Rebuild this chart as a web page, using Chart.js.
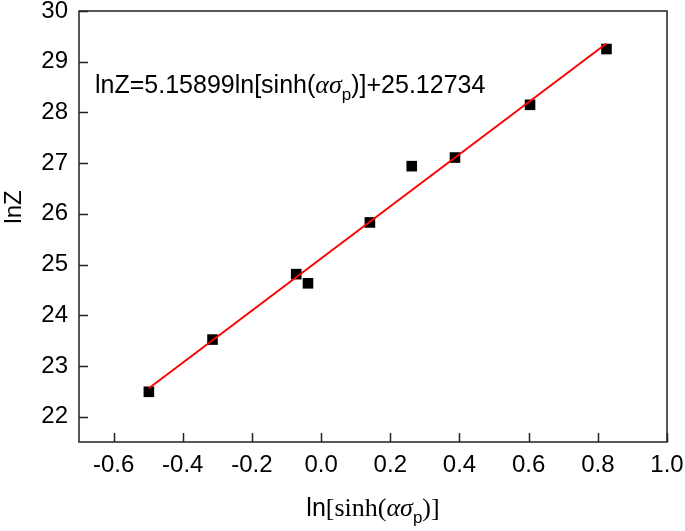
<!DOCTYPE html>
<html>
<head>
<meta charset="utf-8">
<script src="https://cdn.jsdelivr.net/npm/chart.js@4.4.1/dist/chart.umd.min.js"></script>
<style>
  html, body { margin: 0; padding: 0; background: #fff; }
  #wrap { width: 685px; height: 531px; }
</style>
</head>
<body>
<div id="wrap"><canvas id="plot" width="685" height="531"></canvas></div>
<script>
const pointsX = [-0.498, -0.314, -0.072, -0.038, 0.141, 0.262, 0.387, 0.604, 0.825];
const pointsY = [22.49, 23.52, 24.81, 24.63, 25.83, 26.94, 27.11, 28.15, 29.25];
const fitX = [-0.498, 0.825];
const fitY = [22.56, 29.36];
const xTicks = [-0.6, -0.4, -0.2, 0.0, 0.2, 0.4, 0.6, 0.8, 1.0];
const yTicks = [22, 23, 24, 25, 26, 27, 28, 29, 30];

const SANS = "'Liberation Sans', Arial, sans-serif";
const SERIF = "'Liberation Serif', 'Times New Roman', serif";

// plot frame as measured on the reference
const AREA = { left: 79, top: 11, right: 667, bottom: 442 };

function toPoints(xs, ys) {
  return xs.map((x, i) => ({ x, y: ys[i] }));
}

// draw a run of [text, font, dy] pieces starting at x
function drawRuns(ctx, runs, x, y) {
  let cx = x;
  runs.forEach(([text, font, dy]) => {
    ctx.font = font;
    ctx.fillText(text, cx, y + (dy || 0));
    cx += ctx.measureText(text).width;
  });
  return cx;
}

function runsWidth(ctx, runs) {
  let w = 0;
  runs.forEach(([text, font]) => {
    ctx.font = font;
    w += ctx.measureText(text).width;
  });
  return w;
}

// pin the chart area so it does not depend on label overflow padding
const pinPlugin = {
  id: "pin",
  afterLayout(chart) {
    const a = chart.chartArea;
    Object.assign(a, AREA);
    a.width = AREA.right - AREA.left;
    a.height = AREA.bottom - AREA.top;
    const { x, y } = chart.scales;
    Object.assign(x, { left: AREA.left, right: AREA.right, width: a.width, top: AREA.bottom, bottom: chart.height });
    Object.assign(y, { left: 0, right: AREA.left, width: AREA.left, top: AREA.top, bottom: AREA.bottom, height: a.height });
    x.configure();
    y.configure();
  },
};

const framePlugin = {
  id: "frame",
  afterDraw(chart) {
    const { ctx, chartArea: a, scales } = chart;
    ctx.save();
    ctx.strokeStyle = "#222";
    ctx.lineWidth = 1.5;
    ctx.strokeRect(a.left, a.top, a.right - a.left, a.bottom - a.top);

    // inward ticks
    ctx.beginPath();
    xTicks.forEach((v) => {
      const px = Math.round(scales.x.getPixelForValue(v)) + 0.5;
      ctx.moveTo(px, a.bottom);
      ctx.lineTo(px, a.bottom - 9);
    });
    yTicks.forEach((v) => {
      const py = Math.round(scales.y.getPixelForValue(v)) + 0.5;
      ctx.moveTo(a.left, py);
      ctx.lineTo(a.left + 9, py);
    });
    ctx.stroke();

    ctx.fillStyle = "#000";
    ctx.textBaseline = "alphabetic";
    ctx.textAlign = "left";

    // equation
    const eq = [
      ["lnZ=5.15899ln[sinh(", "25px " + SANS],
      ["\u03B1\u03C3", "italic 26px " + SERIF],
      ["p", "17px " + SANS, 7],
      [")]+25.12734", "25px " + SANS],
    ];
    drawRuns(ctx, eq, 95, 93);

    // x title
    const xt = [
      ["ln", "25px " + SANS],
      ["[sinh(", "26px " + SERIF],
      ["\u03B1\u03C3", "italic 26px " + SERIF],
      ["p", "17px " + SANS, 7],
      [")]", "26px " + SERIF],
    ];
    const w = runsWidth(ctx, xt);
    drawRuns(ctx, xt, (a.left + a.right) / 2 - w / 2, 516);

    // y title
    ctx.translate(21, 207);
    ctx.rotate(-Math.PI / 2);
    ctx.font = "24px " + SANS;
    ctx.textAlign = "center";
    ctx.fillText("lnZ", 0, 0);
    ctx.restore();
  },
};

new Chart(document.getElementById("plot"), {
  type: "scatter",
  data: {
    datasets: [
      {
        label: "fit",
        data: toPoints(fitX, fitY),
        showLine: true,
        borderColor: "#ff0000",
        borderWidth: 2,
        pointRadius: 0,
        order: 0,
      },
      {
        label: "lnZ",
        data: toPoints(pointsX, pointsY),
        pointStyle: "rect",
        pointRadius: 7.5,
        pointHoverRadius: 7.5,
        backgroundColor: "#000",
        borderColor: "#000",
        borderWidth: 0,
        order: 1,
      },
    ],
  },
  options: {
    responsive: false,
    animation: false,
    layout: { padding: 0 },
    plugins: { legend: { display: false }, tooltip: { enabled: false } },
    scales: {
      x: {
        type: "linear",
        min: -0.7,
        max: 1.0,
        grid: { display: false, drawTicks: false },
        border: { display: false },
        afterBuildTicks: (s) => { s.ticks = xTicks.map((v) => ({ value: v })); },
        ticks: {
          color: "#000",
          padding: 9,
          maxRotation: 0,
          font: { family: SANS, size: 24 },
          callback: (v) => Number(v).toFixed(1),
        },
      },
      y: {
        type: "linear",
        min: 21.5,
        max: 30,
        grid: { display: false, drawTicks: false },
        border: { display: false },
        afterBuildTicks: (s) => { s.ticks = yTicks.map((v) => ({ value: v })); },
        ticks: {
          color: "#000",
          padding: 11,
          font: { family: SANS, size: 24 },
          callback: (v) => String(v),
        },
      },
    },
  },
  plugins: [pinPlugin, framePlugin],
});
</script>
</body>
</html>
